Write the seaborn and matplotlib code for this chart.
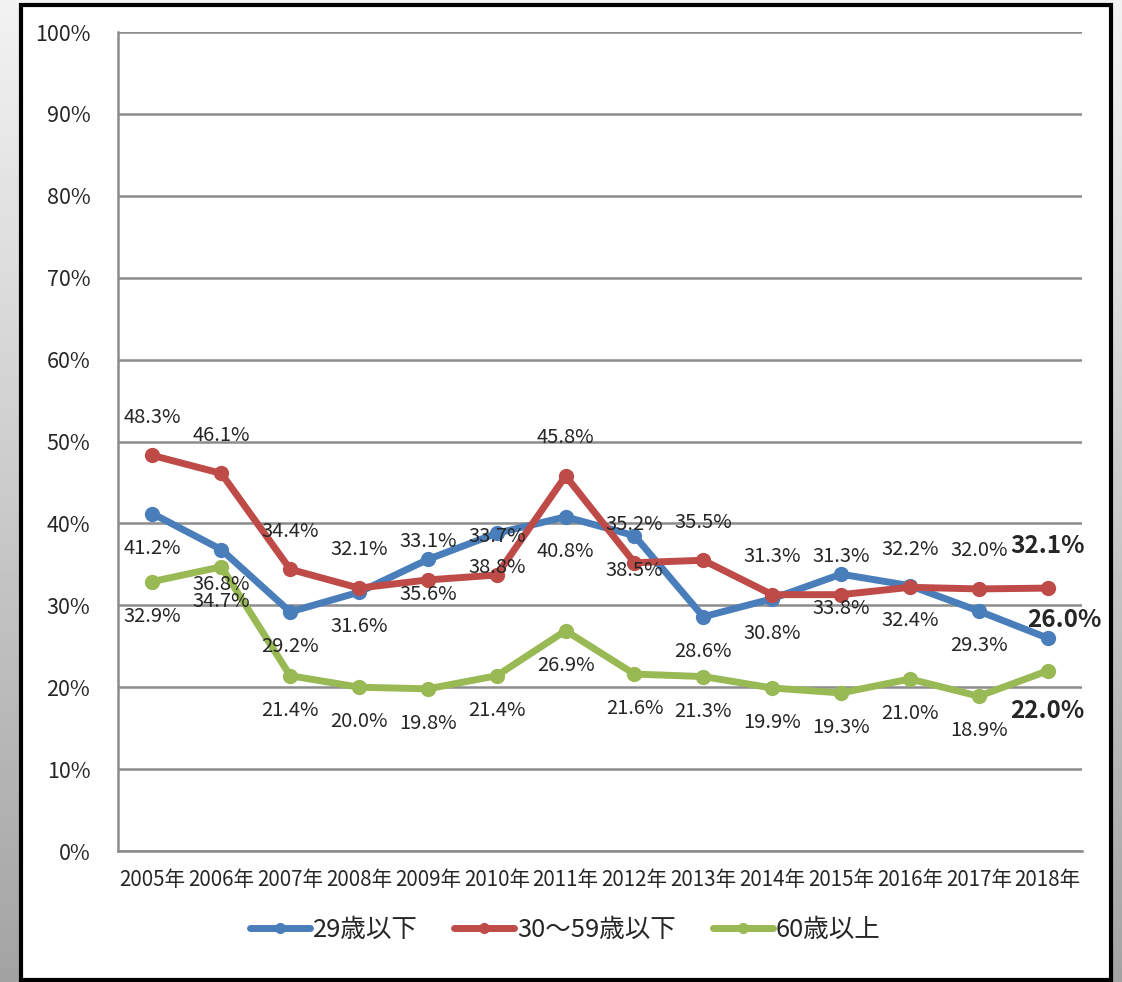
import numpy as np
import pandas as pd
import matplotlib
matplotlib.use('Agg')
import matplotlib.pyplot as plt
import seaborn as sns
from matplotlib.lines import Line2D
from matplotlib.patches import Rectangle

# data
years = ['2005年', '2006年', '2007年', '2008年', '2009年', '2010年', '2011年',
         '2012年', '2013年', '2014年', '2015年', '2016年', '2017年', '2018年']
under29 = [41.2, 36.8, 29.2, 31.6, 35.6, 38.8, 40.8, 38.5, 28.6, 30.8, 33.8, 32.4, 29.3, 26.0]
age30_59 = [48.3, 46.1, 34.4, 32.1, 33.1, 33.7, 45.8, 35.2, 35.5, 31.3, 31.3, 32.2, 32.0, 32.1]
over60 = [32.9, 34.7, 21.4, 20.0, 19.8, 21.4, 26.9, 21.6, 21.3, 19.9, 19.3, 21.0, 18.9, 22.0]
groups = ['29歳以下', '30～59歳以下', '60歳以上']
yticks = [0, 10, 20, 30, 40, 50, 60, 70, 80, 90, 100]

colors = {'29歳以下': '#4A7EBB', '30～59歳以下': '#BE4B48', '60歳以上': '#98B954'}
# label offsets in points (red above, blue/green below)
offsets = {'29歳以下': (0, -25), '30～59歳以下': (0, 27.5), '60歳以上': (0, -25)}
last_offsets = {'29歳以下': (12, 13), '30～59歳以下': (0, 30), '60歳以上': (0, -29)}

sns.set_style('white')
plt.rcParams['font.family'] = ['Noto Sans CJK JP', 'DejaVu Sans']
text_color = '#262626'
grid_color = '#8c8c8c'

df = pd.DataFrame({
    'year': years * 3,
    'rate': under29 + age30_59 + over60,
    'group': [groups[0]] * len(years) + [groups[1]] * len(years) + [groups[2]] * len(years),
})

fig = plt.figure(figsize=(11.22, 9.82), dpi=100)

# grey gradient background outside the frame
bg = fig.add_axes([0, 0, 1, 1], zorder=-10)
grad = np.linspace(0.95, 0.64, 256).reshape(-1, 1)
bg.imshow(grad, aspect='auto', cmap='gray', vmin=0, vmax=1, extent=[0, 1, 0, 1])
bg.set_axis_off()
fig.patches.append(Rectangle((0.0187, 0.0025), 0.9715, 0.9929, transform=fig.transFigure,
                             facecolor='white', edgecolor='black', linewidth=3, zorder=-5))

ax = fig.add_axes([0.1052, 0.1334, 0.8592, 0.834])
ax.set_facecolor('none')

sns.lineplot(data=df, x='year', y='rate', hue='group', palette=colors, marker='o',
             markersize=11, markeredgewidth=0, linewidth=5, sort=False, legend=False, ax=ax)

for g, vals in zip(groups, [under29, age30_59, over60]):
    for i, v in enumerate(vals):
        last = i == len(vals) - 1
        ax.annotate(f'{v:.1f}%', (i, v), xytext=last_offsets[g] if last else offsets[g],
                    textcoords='offset points', ha='center', va='center',
                    fontsize=17.5 if last else 14.5, fontweight='bold' if last else 'normal',
                    color=text_color, zorder=5)

ax.set_xlim(-0.5, len(years) - 0.5)
ax.set_ylim(0, 100)
ax.set_yticks(yticks)
ax.set_yticklabels([f'{v}%' for v in yticks], fontsize=15.5, color=text_color)
ax.set_xticks(range(len(years)))
ax.set_xticklabels(years, fontsize=14.8, color=text_color)
ax.set_xticks(np.arange(-0.5, len(years)), minor=True)
ax.tick_params(axis='x', which='major', length=0, pad=13)
ax.tick_params(axis='x', which='minor', length=7, width=1.5, color=grid_color, direction='out')
ax.tick_params(axis='y', length=8, width=1.5, color=grid_color, pad=12)
ax.set_xlabel('')
ax.set_ylabel('')
ax.grid(axis='y', color=grid_color, linewidth=1.8)
ax.set_axisbelow(True)
for side in ['top', 'right']:
    ax.spines[side].set_visible(False)
for side in ['left', 'bottom']:
    ax.spines[side].set_color(grid_color)
    ax.spines[side].set_linewidth(1.8)

handles = [Line2D([], [], color=colors[g], linewidth=5, marker='o', markersize=8,
                  markeredgewidth=0) for g in groups]
fig.legend(handles, groups, loc='center', bbox_to_anchor=(0.5036, 0.053), ncol=3,
           frameon=False, fontsize=18.4, handlelength=2.35, handletextpad=0.1,
           columnspacing=1.45, labelcolor=text_color)

fig.savefig('out.png', dpi=100)
